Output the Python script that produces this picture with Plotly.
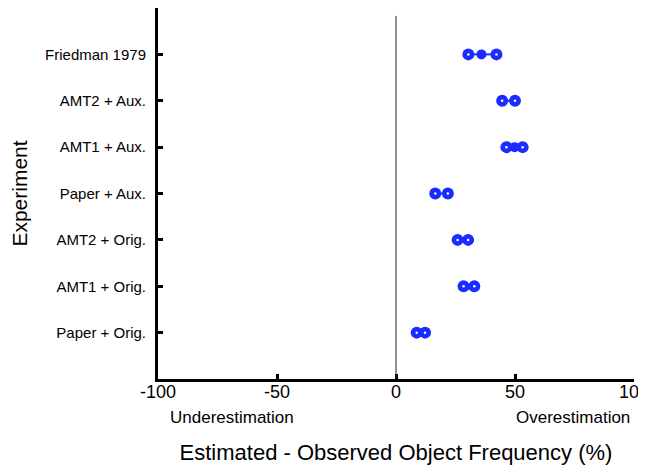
import plotly.graph_objects as go

experiments = ["Paper + Orig.", "AMT1 + Orig.", "AMT2 + Orig.", "Paper + Aux.",
               "AMT1 + Aux.", "AMT2 + Aux.", "Friedman 1979"]
# low / high interval ends and (optional) centre estimate for each experiment
low_vals = [8.7, 28.4, 25.9, 16.5, 46.4, 44.6, 30.4]
high_vals = [12.2, 32.9, 30.3, 21.8, 53.2, 50.0, 42.2]
mid_vals = [None, None, None, None, 49.8, None, 35.9]
x_ticks = [-100, -50, 0, 50, 100]

ypos = list(range(1, len(experiments) + 1))
BLUE = "#1a2cff"

fig = go.Figure()
for i, y in enumerate(ypos):
    xs = [low_vals[i]] + ([mid_vals[i]] if mid_vals[i] is not None else []) + [high_vals[i]]
    fig.add_trace(go.Scatter(x=xs, y=[y] * len(xs), mode="lines",
                             line=dict(color=BLUE, width=2), showlegend=False, hoverinfo="skip"))
    fig.add_trace(go.Scatter(x=[low_vals[i], high_vals[i]], y=[y, y], mode="markers",
                             marker=dict(color=BLUE, size=12, line=dict(width=0)),
                             showlegend=False))
    fig.add_trace(go.Scatter(x=[low_vals[i], high_vals[i]], y=[y, y], mode="markers",
                             marker=dict(color="white", size=2.5, line=dict(width=0)),
                             showlegend=False, hoverinfo="skip"))
    if mid_vals[i] is not None:
        fig.add_trace(go.Scatter(x=[mid_vals[i]], y=[y], mode="markers",
                                 marker=dict(color=BLUE, size=10, line=dict(width=0)),
                                 showlegend=False))

fig.add_shape(type="line", x0=0, x1=0, y0=0, y1=7.83, xref="x", yref="y",
              line=dict(color="#222222", width=1), layer="above")

fig.update_layout(
    width=646, height=468,
    margin=dict(l=150, r=20, t=0, b=97),
    plot_bgcolor="white", paper_bgcolor="white",
    font=dict(family="Liberation Sans, Arial, sans-serif", color="black"),
    # tick labels + title
    xaxis=dict(range=[-100, 100], tickvals=x_ticks, ticktext=[str(v) for v in x_ticks],
               showline=False, ticks="", anchor="free", position=0,
               tickfont=dict(size=18), showgrid=False, zeroline=False,
               automargin=False,
               title=dict(text="Estimated - Observed Object Frequency (%)",
                          font=dict(size=22), standoff=43)),
    # axis line + inside ticks
    xaxis2=dict(range=[-100, 100], overlaying="x", anchor="y", side="bottom",
                tickvals=x_ticks, showticklabels=False,
                showline=True, linecolor="black", linewidth=3,
                ticks="inside", ticklen=5, tickwidth=3, tickcolor="black",
                showgrid=False, zeroline=False, automargin=False),
    yaxis=dict(range=[0, 8], tickvals=ypos + [8], ticktext=experiments + [""],
               showline=True, linecolor="black", linewidth=3,
               ticks="inside", ticklen=5, tickwidth=3, tickcolor="black",
               tickfont=dict(size=15), showgrid=False, zeroline=False,
               ticklabelstandoff=6, automargin=False,
               title=dict(text="Experiment", font=dict(size=21), standoff=15)),
)
# invisible trace so the line/tick axis is drawn
fig.add_trace(go.Scatter(x=[None], y=[None], xaxis="x2", yaxis="y",
                         showlegend=False, hoverinfo="skip"))

fig.add_annotation(text="Underestimation", xref="paper", yref="paper",
                   x=0.02, y=-0.105, xanchor="left", yanchor="middle",
                   showarrow=False, font=dict(size=17))
fig.add_annotation(text="Overestimation", xref="paper", yref="paper",
                   x=0.996, y=-0.105, xanchor="right", yanchor="middle",
                   showarrow=False, font=dict(size=17))

fig.write_html("out.html")
